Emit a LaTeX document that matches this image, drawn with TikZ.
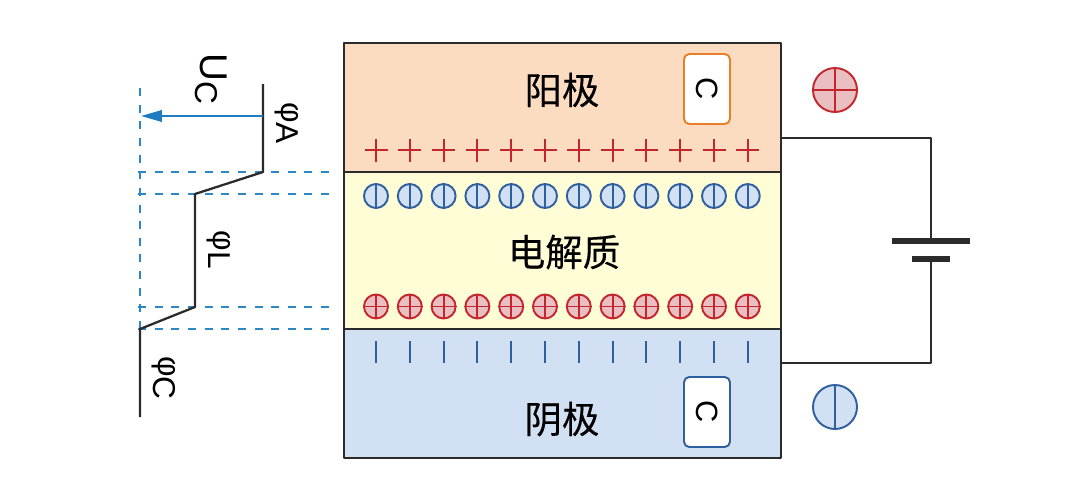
\documentclass[tikz,border=0pt]{standalone}
\usepackage{fontspec}
\setmainfont{Liberation Sans}
\newfontfamily\cjk[FakeBold=0.25]{Noto Sans CJK SC}
\usetikzlibrary{arrows.meta}
\definecolor{anodefill}{HTML}{FBDCC0}
\definecolor{electfill}{HTML}{FFFDD6}
\definecolor{cathfill}{HTML}{D2E0F3}
\definecolor{redline}{HTML}{C4262E}
\definecolor{redfill}{HTML}{E9BFC2}
\definecolor{blueline}{HTML}{2F5F9E}
\definecolor{dashblue}{HTML}{2E86C4}
\definecolor{arrowblue}{HTML}{1F7CC0}
\definecolor{boxorange}{HTML}{E8802A}
\definecolor{wirecol}{HTML}{2B2B2B}
\tikzset{
	layer/.style={draw=wirecol,line width=1.4pt,inner sep=0,minimum width=8.74cm},
	hanzi/.style={font=\cjk\fontsize{21.3pt}{24pt}\selectfont,text=black,inner sep=0},
	cbox/.style={rounded corners=3pt,fill=white,line width=1.1pt,rotate=-90,minimum width=1.4cm,minimum height=.92cm,inner sep=0,font=\fontsize{17.5pt}{20pt}\selectfont},
	ionpos/.style={circle,draw=redline,fill=redfill,line width=1.1pt,inner sep=0,minimum size=#1},
	ionneg/.style={circle,draw=blueline,fill=cathfill,line width=1.1pt,inner sep=0,minimum size=#1},
	philabel/.style={rotate=-90,inner sep=0,font=\fontsize{18pt}{20pt}\selectfont},
	guide/.style={draw=dashblue,line width=1.2pt,dash pattern=on .16cm off .173cm},
	wire/.style={draw=wirecol,line width=1.3pt}
}
\begin{document}
\begin{tikzpicture}[x=.02cm,y=-.02cm,line join=round,>={Triangle[length=.42cm,width=.23cm]}]
	\useasboundingbox (0,0) rectangle (1080,477);
	\node[layer,fill=anodefill,minimum height=2.58cm] (anode) at (562.5,107.5) {};
	\node[layer,fill=electfill,minimum height=3.14cm] (elect) at (562.5,250.5) {};
	\node[layer,fill=cathfill,minimum height=2.58cm] (cath) at (562.5,393.5) {};
	\node[hanzi] (anodetext) at (562,90) {阳极};
	\node[hanzi] (electtext) at (564,252) {电解质};
	\node[hanzi] (cathtext) at (562,419) {阴极};
	\node[cbox,draw=boxorange] (anodebox) at (707,89) {C};
	\node[cbox,draw=blueline] (cathbox) at (707,412) {C};
	% charges in the three layers
	\foreach \i in {0,...,11} {
		\pgfmathsetmacro{\xx}{376+33.8*\i}
		\coordinate (pt\i) at (\xx,138.5);
		\coordinate (pb\i) at (\xx,161.5);
		\coordinate (pl\i) at (\xx-11.5,150);
		\coordinate (pr\i) at (\xx+11.5,150);
		\coordinate (mt\i) at (\xx,341);
		\coordinate (mb\i) at (\xx,363);
		\draw[redline,line width=1.1pt] (pt\i)--(pb\i) (pl\i)--(pr\i);
		\draw[blueline,line width=1.1pt] (mt\i)--(mb\i);
		\node[ionneg=.48cm] (n\i) at (\xx,196) {};
		\draw[blueline,line width=1.1pt] (n\i.north)--(n\i.south);
		\node[ionpos=.48cm] (q\i) at (\xx,306.5) {};
		\draw[redline,line width=1.1pt] (q\i.north)--(q\i.south) (q\i.west)--(q\i.east);
	}
	\node[ionpos=.88cm] (bigpos) at (835,90) {};
	\draw[redline,line width=1.1pt] (bigpos.north)--(bigpos.south) (bigpos.west)--(bigpos.east);
	\node[ionneg=.88cm] (bigneg) at (835,407) {};
	\draw[blueline,line width=1.1pt] (bigneg.north)--(bigneg.south);
	% battery
	\coordinate (WA) at (781,138);
	\coordinate (WC) at (781,363);
	\coordinate (PL) at (931,241);
	\coordinate (PS) at (931,259);
	\coordinate (PLa) at (892,241);
	\coordinate (PLb) at (970,241);
	\coordinate (PSa) at (912,259);
	\coordinate (PSb) at (950,259);
	\draw[wire] (WA)-|(PL);
	\draw[wire] (WC)-|(PS);
	\draw[wirecol,line width=2.9pt] (PLa)--(PLb);
	\draw[wirecol,line width=2.9pt] (PSa)--(PSb);
	% potential profile
	\foreach \y/\n in {172/a,194/b,307/c,329/d} {
		\coordinate (G\n l) at (138,\y);
		\coordinate (G\n r) at (331,\y);
		\draw[guide] (G\n l)--(G\n r);
	}
	\coordinate (V) at (140,88);
	\coordinate (D) at (140,329);
	\draw[guide] (V)--(D);
	\coordinate (T) at (263,84);
	\coordinate (A) at (263,172);
	\coordinate (B) at (195,194);
	\coordinate (C) at (195,307);
	\coordinate (E) at (140,417);
	\draw[wire] (T)--(A)--(B)--(C)--(D)--(E);
	\coordinate (S) at (263,116);
	\coordinate (F) at (141,116);
	\draw[->,arrowblue,line width=1.2pt] (S)--(F);
	\node[rotate=-90,inner sep=0] (uc) at (211,79) {\fontsize{22pt}{24pt}\selectfont U\raisebox{-.12em}{\fontsize{18pt}{20pt}\selectfont C}};
	\node[philabel] (phia) at (287,123) {φ\raisebox{-.15em}{A}};
	\node[philabel] (phil) at (219,250) {φ\raisebox{-.15em}{L}};
	\node[philabel] (phic) at (164,378) {φ\raisebox{-.15em}{C}};
\end{tikzpicture}
\end{document}
